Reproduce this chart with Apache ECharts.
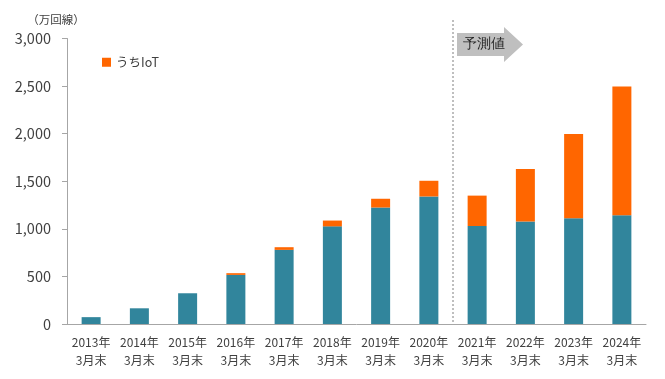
<!DOCTYPE html>
<html><head><meta charset="utf-8">
<script src="https://cdn.jsdelivr.net/npm/echarts@6/dist/echarts.min.js"></script>
<style>html,body{margin:0;padding:0;background:#fff}#c{width:665px;height:379px}</style>
</head><body><div id="c"></div>
<script>
const categories = ['2013年\n3月末','2014年\n3月末','2015年\n3月末','2016年\n3月末','2017年\n3月末','2018年\n3月末','2019年\n3月末','2020年\n3月末','2021年\n3月末','2022年\n3月末','2023年\n3月末','2024年\n3月末'];
const baseValues = [72, 165, 323, 516, 779, 1026, 1224, 1340, 1030, 1077, 1110, 1142];
const iotValues  = [0, 0, 0, 18, 28, 61, 92, 165, 319, 552, 886, 1353];
const yTicks = [0, 500, 1000, 1500, 2000, 2500, 3000];
const font = '"Noto Sans CJK JP", "Noto Sans", sans-serif';
const chart = echarts.init(document.getElementById('c'));
chart.setOption({
  animation: false,
  textStyle: {fontFamily: font},
  grid: {left: 67, right: 19, top: 38.5, bottom: 55},
  legend: {
    data: ['うちIoT'], left: 97, top: 51, itemWidth: 9, itemHeight: 9, itemGap: 4,
    icon: 'rect',
    textStyle: {fontSize: 12.5, color: '#404040', fontFamily: font}
  },
  xAxis: {
    type: 'category', data: categories,
    axisLine: {lineStyle: {color: '#a6a6a6'}},
    axisTick: {length: 5, lineStyle: {color: '#a6a6a6'}},
    axisLabel: {fontSize: 12, color: '#404040', lineHeight: 18, margin: 9, interval: 0}
  },
  yAxis: {
    type: 'value', min: yTicks[0], max: yTicks[yTicks.length-1], interval: 500,
    name: '（万回線）', nameGap: 13, nameLocation: 'end',
    nameTextStyle: {fontSize: 11.5, color: '#404040', align: 'center', padding: [0, 0, 0, -22]},
    axisLine: {show: true, lineStyle: {color: '#a6a6a6'}},
    axisTick: {show: true, length: 5, lineStyle: {color: '#a6a6a6'}},
    splitLine: {show: false},
    axisLabel: {fontSize: 14.5, color: '#404040', margin: 16,
      formatter: v => v.toLocaleString('en-US')}
  },
  series: [
    {name: 'ベース', type: 'bar', stack: 't', data: baseValues, barWidth: 19,
     itemStyle: {color: '#31859c'}},
    {name: 'うちIoT', type: 'bar', stack: 't', data: iotValues, barWidth: 19,
     itemStyle: {color: '#ff6600'}}
  ]
});
const p7 = chart.convertToPixel({xAxisIndex: 0}, 7);
const p8 = chart.convertToPixel({xAxisIndex: 0}, 8);
const xs = (p7 + p8) / 2;
const y0 = chart.convertToPixel({yAxisIndex: 0}, 0);
chart.setOption({
  graphic: [
    {type: 'line', shape: {x1: xs, y1: 20, x2: xs, y2: y0},
     style: {stroke: '#7f7f7f', lineWidth: 1, lineDash: [2, 2]}},
    {type: 'polygon', shape: {points: [[xs+4, 33], [xs+51, 33], [xs+51, 27], [xs+70, 44.5], [xs+51, 62], [xs+51, 56], [xs+4, 56]]},
     style: {fill: '#bfbfbf'}},
    {type: 'text', x: xs + 10, y: 44.5,
     style: {text: '予測値', fontSize: 13.5, fill: '#262626', font: '13.5px ' + font, verticalAlign: 'middle'}}
  ]
});
</script></body></html>
